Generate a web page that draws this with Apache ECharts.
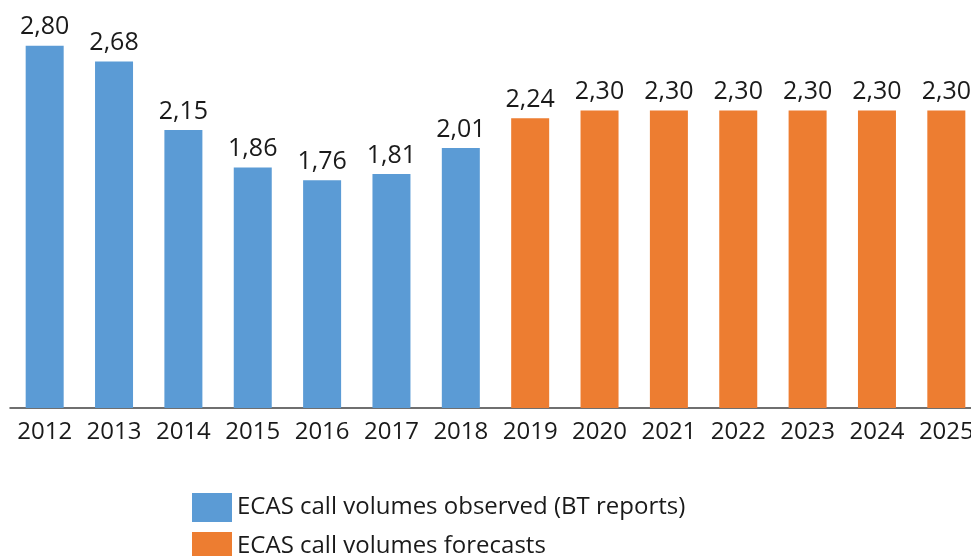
<!DOCTYPE html>
<html lang="en">
<head>
    <meta charset="UTF-8">
    <title>ECAS call volumes</title>
    <script src="https://cdn.jsdelivr.net/npm/echarts@6/dist/echarts.min.js"></script>
    <style>
        html, body { margin: 0; padding: 0; background: #fff; overflow: hidden; }
        /* plot area runs a little past the right edge, as in the original */
        #chart { width: 990px; height: 556px; }
    </style>
</head>
<body>
    <div id="chart"></div>
    <script>
        // data
        var years = ['2012', '2013', '2014', '2015', '2016', '2017', '2018',
            '2019', '2020', '2021', '2022', '2023', '2024', '2025'];
        var observed = [2.80, 2.68, 2.15, 1.86, 1.76, 1.81, 2.01, '-', '-', '-', '-', '-', '-', '-'];
        var forecasts = ['-', '-', '-', '-', '-', '-', '-', 2.24, 2.30, 2.30, 2.30, 2.30, 2.30, 2.30];

        var font = 'Open Sans';

        function fmt(p) {
            return p.value.toFixed(2).replace('.', ',');
        }

        var myChart = echarts.init(document.getElementById('chart'));
        var option = {
            animation: false,
            grid: {
                left: 10,
                top: 20,
                width: 971,
                height: 388,
                containLabel: false
            },
            legend: {
                orient: 'vertical',
                left: 192,
                top: 493,
                height: 120,
                padding: 0,
                itemWidth: 40,
                itemHeight: 29,
                itemGap: 10,
                icon: 'rect',
                textStyle: { fontFamily: font, fontSize: 24, color: '#1a1a1a' },
                data: ['ECAS call volumes observed (BT reports)', 'ECAS call volumes forecasts']
            },
            xAxis: {
                type: 'category',
                data: years,
                axisLine: { lineStyle: { color: '#404040', width: 1.5 } },
                axisTick: { show: false },
                axisLabel: { interval: 0, fontFamily: font, fontSize: 24, color: '#1a1a1a', margin: 12 }
            },
            yAxis: {
                type: 'value',
                min: 0,
                max: 3,
                show: false,
                splitLine: { show: false }
            },
            series: [{
                name: 'ECAS call volumes observed (BT reports)',
                type: 'bar',
                barWidth: 38,
                barGap: '-100%',
                itemStyle: { color: '#5B9BD5' },
                label: {
                    show: true,
                    position: 'top',
                    distance: 6,
                    fontFamily: font,
                    fontSize: 25,
                    color: '#1a1a1a',
                    formatter: fmt
                },
                data: observed
            }, {
                name: 'ECAS call volumes forecasts',
                type: 'bar',
                barWidth: 38,
                itemStyle: { color: '#ED7D31' },
                label: {
                    show: true,
                    position: 'top',
                    distance: 6,
                    fontFamily: font,
                    fontSize: 25,
                    color: '#1a1a1a',
                    formatter: fmt
                },
                data: forecasts
            }]
        };
        myChart.setOption(option);
    </script>
</body>
</html>
